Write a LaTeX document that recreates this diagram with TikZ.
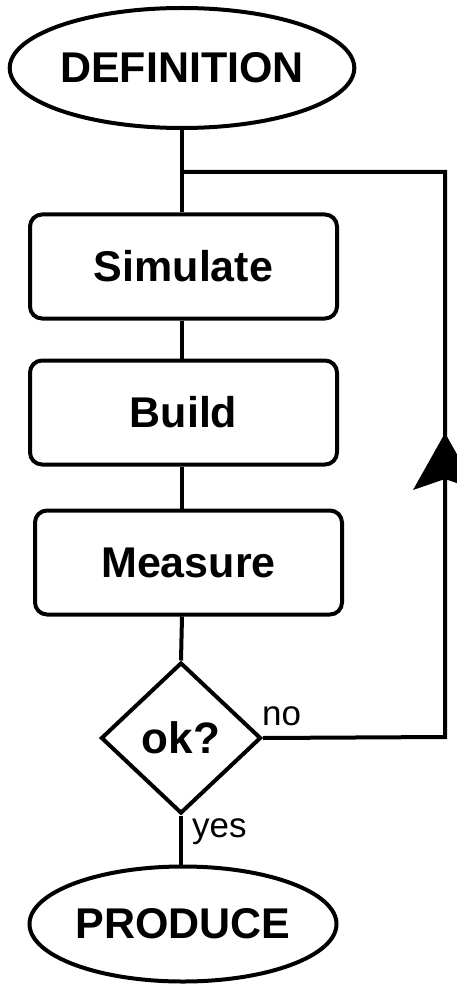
\documentclass[tikz,border=0pt]{standalone}
\usepackage{fontspec}
\setmainfont{Liberation Sans}
\usetikzlibrary{shapes.geometric}
\begin{document}
\begin{tikzpicture}[x=1pt,y=-1pt,
  ln/.style={line width=4pt},
  term/.style={ellipse,draw,line width=4pt,inner sep=0pt,font=\fontsize{43}{50}\selectfont\bfseries},
  proc/.style={rectangle,rounded corners=12pt,draw,line width=4pt,inner sep=0pt,minimum width=307pt,minimum height=104pt,font=\fontsize{43}{50}\selectfont\bfseries},
  dec/.style={diamond,draw,line width=4pt,inner sep=0pt,minimum width=160pt,minimum height=151pt,font=\fontsize{44}{50}\selectfont\bfseries},
  lab/.style={font=\fontsize{35}{40}\selectfont,inner sep=0pt}]
\fill[white] (0,0) rectangle (456,984);
\useasboundingbox (0,0) rectangle (456,984);

\node[term,minimum width=308pt,minimum height=120pt] (def) at (182,68) {DEFINITION};
\node[proc] (sim) at (183.5,266.5) {Simulate};
\node[proc] (build) at (183.5,412.5) {Build};
\node[proc] (meas) at (188.5,562.5) {Measure};
\node[dec] (ok) at (181,738) {ok?};
\node[term,minimum width=307pt,minimum height=115pt] (prod) at (183,924) {PRODUCE};

\coordinate (j) at (182,172);
\coordinate (tr) at (445,172);
\coordinate (cr) at (445,737);

\draw[ln] (def.south) -- (def.south |- sim.north);
\draw[ln] (182,0 |- sim.south) -- (182,0 |- build.north);
\draw[ln] (182,0 |- build.south) -- (182,0 |- meas.north);
\draw[ln] (182,0 |- meas.south) -- (ok.north);
\draw[ln] (ok.south) -- (ok.south |- prod.north);
\draw[ln] (ok.east) -- (cr) -- (tr) -- (j);

\fill (445,433) -- (413,490) -- (445,479) -- (477,490) -- cycle;

\node[lab,anchor=base west] (no) at (262,725) {no};
\node[lab,anchor=base west] (yes) at (192,837) {yes};
\end{tikzpicture}
\end{document}
